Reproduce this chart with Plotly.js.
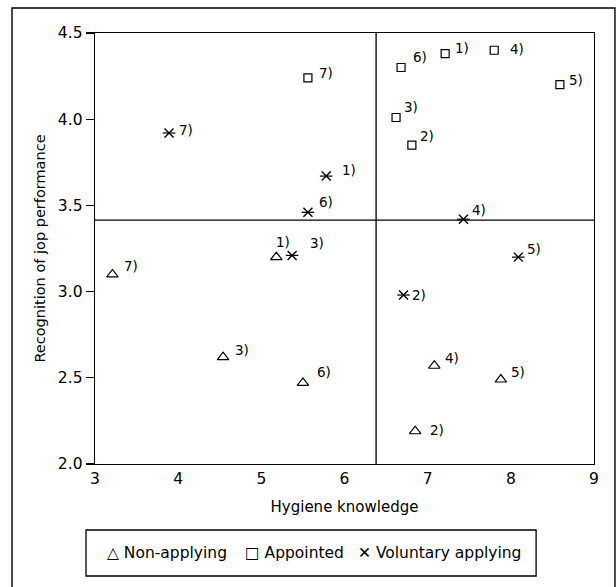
<!DOCTYPE html>
<html>
<head>
<meta charset="utf-8">
<script src="https://cdn.plot.ly/plotly-3.0.1.min.js"></script>
<style>html,body{margin:0;padding:0;background:#fff;}#chart{width:616px;height:587px;}</style>
</head>
<body>
<div id="chart"></div>
<script>
// ---- data ----
const pointLabels = ["1)", "2)", "3)", "4)", "5)", "6)", "7)"];

const seriesNames = ["Non-applying", "Appointed", "Voluntary applying"];

const nonApplyingX = [5.18, 6.85, 4.54, 7.08, 7.88, 5.50, 3.21];
const nonApplyingY = [3.20, 2.19, 2.62, 2.57, 2.49, 2.47, 3.10];

const appointedX = [7.21, 6.81, 6.62, 7.80, 8.59, 6.68, 5.56];
const appointedY = [4.38, 3.85, 4.01, 4.40, 4.20, 4.30, 4.24];

const voluntaryX = [5.78, 6.71, 5.37, 7.43, 8.09, 5.56, 3.89];
const voluntaryY = [3.67, 2.98, 3.21, 3.42, 3.20, 3.46, 3.92];

const xCut = 6.38;   // vertical dividing line (hygiene knowledge)
const yCut = 3.415;  // horizontal dividing line (recognition)

const xTickVals = [3, 4, 5, 6, 7, 8, 9];
const yTickVals = [2.0, 2.5, 3.0, 3.5, 4.0, 4.5];

// ---- label offsets (px), style only ----
const nonApplyingOff = [[-2, -15], [13, -1], [10, -7], [9, -8], [8, -8], [12, -11], [10, -8]];
const appointedOff   = [[8, -6], [6, -9], [6, -10], [14, -1], [7, -5], [10, -10], [9, -5]];
const voluntaryOff   = [[14, -6], [6, 0], [16, -12], [7, -9], [7, -8], [9, -10], [8, -3]];

const FONT = "DejaVu Sans, sans-serif";

const traces = [
  {
    type: "scatter", mode: "markers", name: seriesNames[0],
    x: nonApplyingX, y: nonApplyingY, showlegend: false,
    marker: {symbol: "triangle-up-open", size: 10, color: "#000", line: {width: 1.2, color: "#000"}}
  },
  {
    type: "scatter", mode: "markers", name: seriesNames[1],
    x: appointedX, y: appointedY, showlegend: false,
    marker: {symbol: "square-open", size: 8, color: "#000", line: {width: 1.2, color: "#000"}}
  },
  {
    type: "scatter", mode: "markers", name: seriesNames[2],
    x: voluntaryX, y: voluntaryY, showlegend: false,
    marker: {symbol: "x-thin-open", size: 9, color: "#000", line: {width: 1.4, color: "#000"}}
  },
  {
    type: "scatter", mode: "markers", name: seriesNames[2] + " (bar)",
    x: voluntaryX, y: voluntaryY, showlegend: false, hoverinfo: "skip",
    marker: {symbol: "line-ew-open", size: 9, color: "#000", line: {width: 1.2, color: "#000"}}
  }
];

const annotations = [];
function addLabels(xs, ys, offs) {
  xs.forEach((x, i) => {
    annotations.push({
      x: x, y: ys[i], xref: "x", yref: "y", text: pointLabels[i],
      showarrow: false, xanchor: "left", yanchor: "middle",
      xshift: offs[i][0], yshift: -offs[i][1],
      font: {family: FONT, size: 13.5, color: "#000"}
    });
  });
}
addLabels(nonApplyingX, nonApplyingY, nonApplyingOff);
addLabels(appointedX, appointedY, appointedOff);
addLabels(voluntaryX, voluntaryY, voluntaryOff);

// legend drawn as a boxed row of text items
const legendSymbols = ["\u25B3", "\u25A1", "\u2715"];
const legendItemX = [0.020, 0.297, 0.523];
seriesNames.forEach((n, i) => {
  annotations.push({
    xref: "paper", yref: "paper", x: legendItemX[i], y: -0.2065,
    xanchor: "left", yanchor: "middle", showarrow: false,
    text: legendSymbols[i] + "\u00A0" + n,
    font: {family: FONT, size: 15.5, color: "#000"}
  });
});

const shapes = [
  {type: "line", xref: "x", yref: "paper", x0: xCut, x1: xCut, y0: 0, y1: 1, line: {color: "#000", width: 1.3}},
  {type: "line", xref: "paper", yref: "y", x0: 0, x1: 1, y0: yCut, y1: yCut, line: {color: "#000", width: 1.3}},
  // legend box
  {type: "rect", xref: "paper", yref: "paper", x0: -0.018, x1: 0.884, y0: -0.2599, y1: -0.1531, line: {color: "#000", width: 1.3}, fillcolor: "rgba(0,0,0,0)"},
  // outer frame
  {type: "rect", xref: "paper", yref: "paper", x0: -0.1663, x1: 1.042, y0: -0.32, y1: 1.058, line: {color: "#000", width: 1.4}, fillcolor: "rgba(0,0,0,0)"}
];

const layout = {
  width: 616, height: 587,
  margin: {l: 95, r: 22, t: 33, b: 123},
  paper_bgcolor: "#fff", plot_bgcolor: "#fff",
  font: {family: FONT, size: 15, color: "#000"},
  showlegend: false,
  xaxis: {
    range: [3, 9], tickvals: xTickVals, ticktext: xTickVals.map(String),
    showgrid: false, zeroline: false, showline: true, mirror: true,
    linecolor: "#000", linewidth: 1.4, ticks: "",
    tickfont: {family: FONT, size: 15.5, color: "#000"},
    title: {text: "Hygiene knowledge", font: {family: FONT, size: 15, color: "#000"}, standoff: 14}
  },
  yaxis: {
    range: [2, 4.5], tickvals: yTickVals, ticktext: yTickVals.map(v => v.toFixed(1)),
    showgrid: false, zeroline: false, showline: true, mirror: true,
    linecolor: "#000", linewidth: 1.4, ticks: "outside", ticklen: 8, tickcolor: "#000", tickwidth: 1.2,
    tickfont: {family: FONT, size: 15.5, color: "#000"},
    title: {text: "Recognition of jop performance", font: {family: FONT, size: 14.5, color: "#000"}, standoff: 8}
  },
  shapes: shapes,
  annotations: annotations
};

Plotly.newPlot("chart", traces, layout, {displayModeBar: false, staticPlot: true});
</script>
</body>
</html>
